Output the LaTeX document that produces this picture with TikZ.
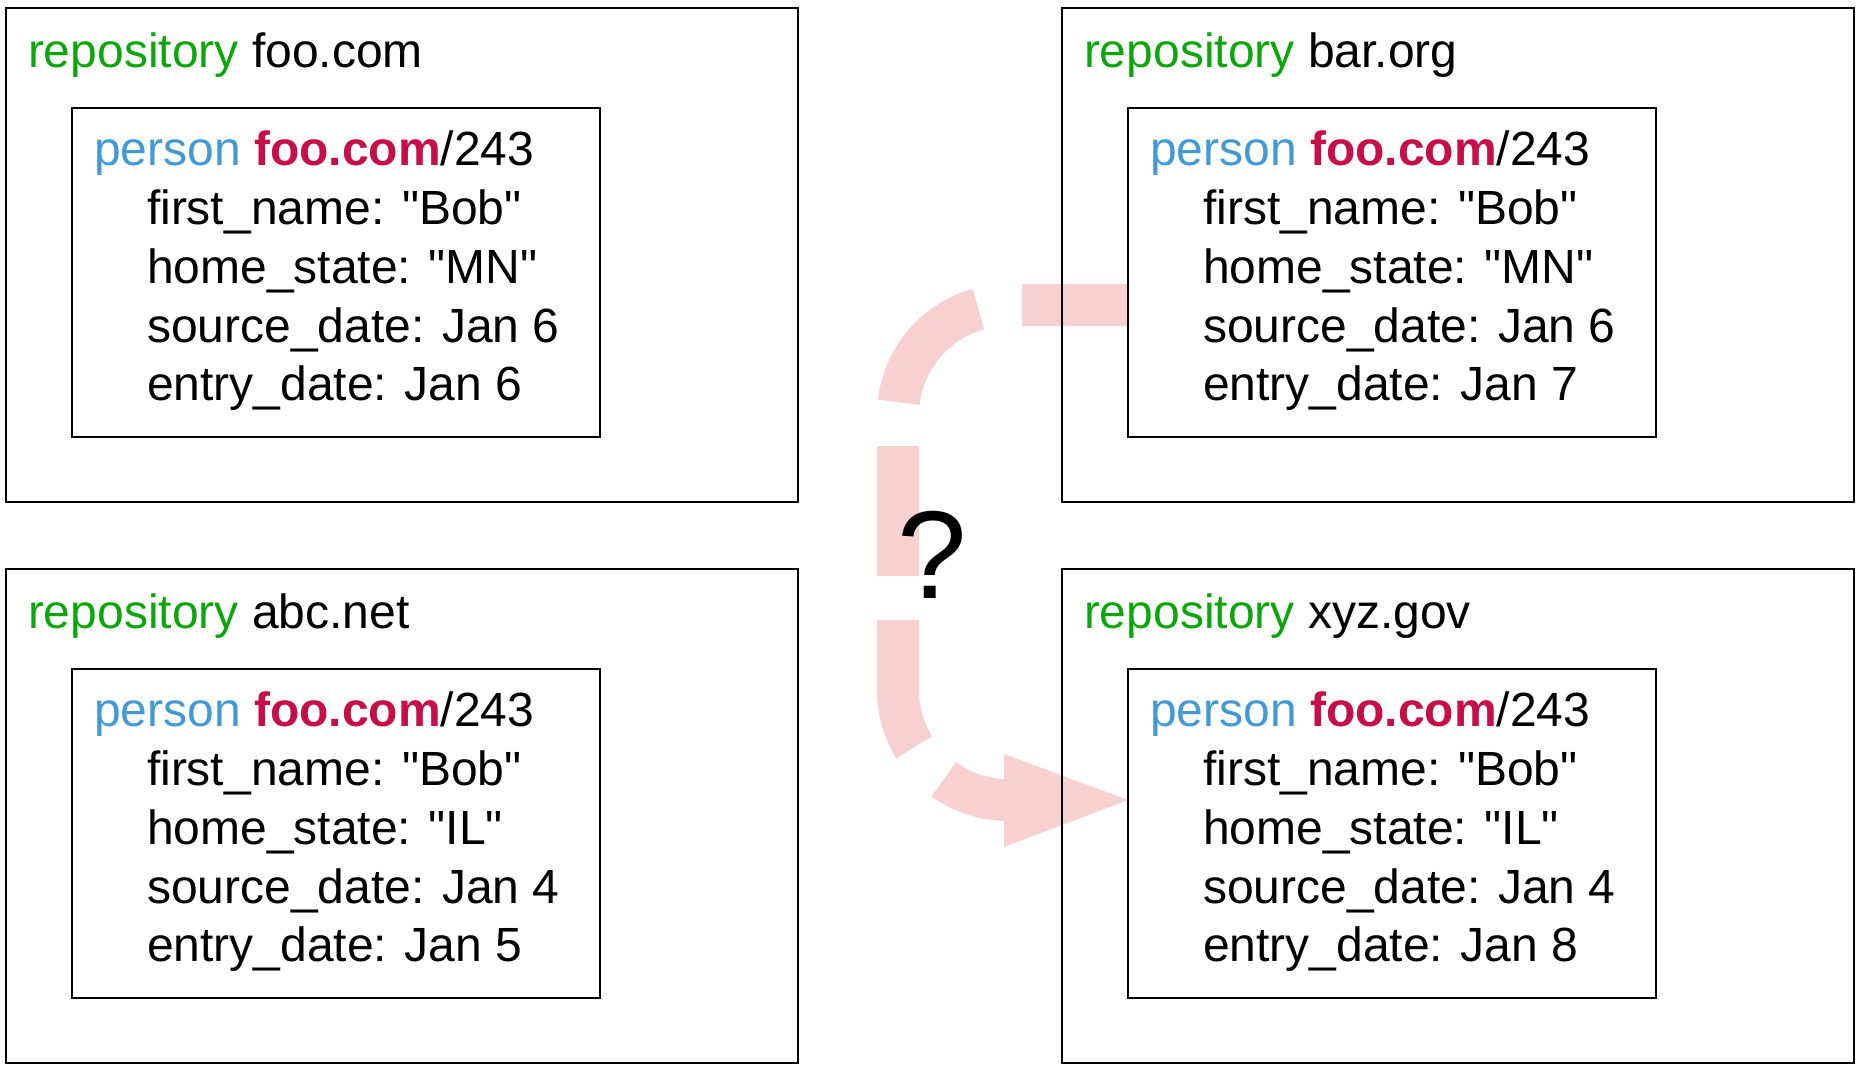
\documentclass[tikz,border=0pt]{standalone}
\usepackage{fontspec}
\setmainfont{Liberation Sans}[Ligatures=TeXOff]
\usetikzlibrary{calc,backgrounds}
\definecolor{repogreen}{RGB}{10,166,10}
\definecolor{personblue}{RGB}{66,153,214}
\definecolor{foored}{RGB}{198,14,72}
\definecolor{pinkarrow}{RGB}{247,209,207}
\tikzset{
  outerbox/.style={draw=black, line width=2.2pt, minimum width=792pt, minimum height=494pt, inner sep=0pt, outer sep=0pt},
  innerbox/.style={draw=black, line width=2.2pt, minimum width=528pt, minimum height=329pt, inner sep=0pt, outer sep=0pt},
  txt/.style={anchor=base west, inner sep=0pt, outer sep=0pt, font=\fontsize{48}{58}\selectfont},
  pinkline/.style={draw=pinkarrow, line width=42pt, rounded corners=110pt, dash pattern=on 130pt off 44pt, dash phase=24pt},
  qmark/.style={inner sep=0pt, font=\fontsize{125}{130}\selectfont},
}
\newcommand\repobox[7]{%
\begin{scope}[shift={(#2,#3)}]
\node[outerbox, anchor=north west] (#1outer) at (6,8) {};
\node[innerbox, anchor=north west] (#1inner) at (72,108) {};
\node[txt] (#1repo) at (28,67) {\textcolor{repogreen}{repository} #4};
\node[txt] (#1person) at (94,165) {\textcolor{personblue}{person} \textcolor{foored}{\bfseries foo.com}/243};
\node[txt] (#1a) at (147,224) {first\_name: "Bob"};
\node[txt] (#1b) at (147,283) {home\_state: "#5"};
\node[txt] (#1c) at (147,342) {source\_date: Jan #6};
\node[txt] (#1d) at (147,400) {entry\_date: Jan #7};
\end{scope}}
\begin{document}
\begin{tikzpicture}[x=1pt,y=-1pt]
\useasboundingbox (0,0) rectangle (1857,1065);
\repobox{tl}{0}{0}{foo.com}{MN}{6}{6}
\repobox{tr}{1056}{0}{bar.org}{MN}{6}{7}
\repobox{bl}{0}{561}{abc.net}{IL}{4}{5}
\repobox{br}{1056}{561}{xyz.gov}{IL}{4}{8}
\coordinate (s) at ($(trinner.north west)+(0,197)$);
\coordinate (e) at ($(brinner.north west)+(0,131)$);
\coordinate (c1) at ($(s)+(-230,0)$);
\coordinate (c2) at ($(e)+(-230,0)$);
\coordinate (lend) at ($(e)+(-110,0)$);
\coordinate (hb) at ($(e)+(-124,0)$);
\begin{scope}[on background layer]
\draw[pinkline] (s) -- (c1) -- (c2) -- (lend);
\fill[pinkarrow] (e) -- ($(hb)+(0,-46)$) -- ($(hb)+(0,47)$) -- cycle;
\end{scope}
\node[qmark] (q) at (932,555) {?};
\end{tikzpicture}
\end{document}
